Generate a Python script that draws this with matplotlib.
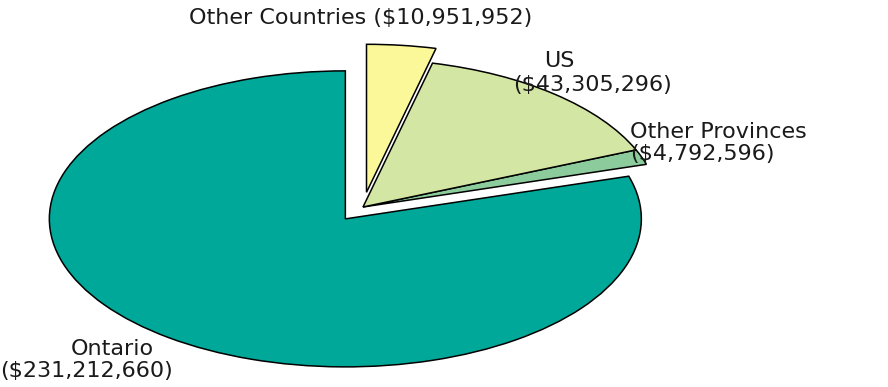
import matplotlib
matplotlib.use("Agg")
import matplotlib.pyplot as plt

# data (counter-clockwise from 12 o'clock)
regions = ["Ontario", "Other Provinces", "US", "Other Countries"]
sales = [231212660, 4792596, 43305296, 10951952]
colors = ["#00a89a", "#8ccb9b", "#d4e6a4", "#fbf89a"]
explode = [0.1, 0.0, 0.0, 0.1]

W, H = 888, 387
fig = plt.figure(figsize=(W / 100, H / 100), dpi=100)

# pie is squashed into an ellipse: centre (363, 207), radii 296 x 148 px
cx, cy, rx, ry = 363, 207, 296, 148
ax = fig.add_axes([(cx - rx) / W, (H - cy - ry) / H, 2 * rx / W, 2 * ry / H])
ax.pie(sales, colors=colors, explode=explode, startangle=90, counterclock=True,
       wedgeprops=dict(edgecolor="black", linewidth=1.1))
ax.set_aspect("auto")
ax.set_xlim(-1, 1)
ax.set_ylim(-1, 1)
ax.axis("off")


def money(v):
    return "($" + format(v, ",") + ")"


font = dict(family="DejaVu Sans", fontsize=16, color="#1a1a1a", va="center")

# label lines placed in pixel positions (from top-left)
def label(x, y, s, ha="left"):
    fig.text(x / W, 1 - y / H, s, ha=ha, **font)


label(361, 18, "Other Countries " + money(sales[3]), ha="center")
label(559, 61, "US", ha="center")
label(513, 85, money(sales[2]))
label(630, 132, "Other Provinces")
label(630, 154, money(sales[1]))
label(112, 349, "Ontario", ha="center")
label(0, 371, money(sales[0]))

fig.savefig("out.png", dpi=100, facecolor="white")
